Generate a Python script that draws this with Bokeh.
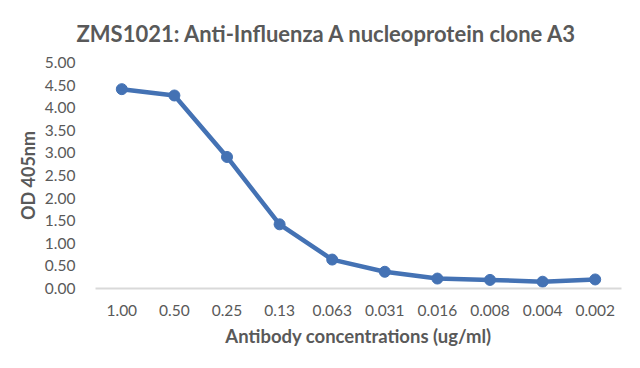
from bokeh.plotting import figure
from bokeh.models import Range1d, FactorRange, ColumnDataSource, SingleIntervalTicker, NumeralTickFormatter
from bokeh.embed import file_html
from bokeh.resources import INLINE

concentrations = ["1.00", "0.50", "0.25", "0.13", "0.063", "0.031", "0.016", "0.008", "0.004", "0.002"]
od_values = [4.41, 4.27, 2.91, 1.42, 0.64, 0.37, 0.22, 0.19, 0.15, 0.20]

FONT = "Lato"
GREY = "#595959"
BLUE = "#4472B4"

src = ColumnDataSource(dict(x=concentrations, y=od_values))

p = figure(width=632, height=360, output_backend="svg", toolbar_location=None,
           x_range=FactorRange(factors=concentrations, range_padding=0),
           y_range=Range1d(0, 5),
           min_border_left=95, min_border_right=11, min_border_top=62, min_border_bottom=72,
           title="ZMS1021: Anti-Influenza A nucleoprotein clone A3")

p.title.align = "left"
p.title.text_font = FONT
p.title.text_font_size = "22px"
p.title.text_font_style = "bold"
p.title.text_color = GREY
p.title.standoff = 32
p.title.offset = -19

p.line("x", "y", source=src, line_color=BLUE, line_width=4.5)
p.scatter("x", "y", source=src, size=11, fill_color=BLUE, line_color=BLUE)

p.outline_line_color = None
p.background_fill_color = "white"
p.border_fill_color = "white"
p.xgrid.grid_line_color = None
p.ygrid.grid_line_color = None

xa = p.xaxis[0]
xa.axis_line_color = "#d9d9d9"
xa.axis_line_width = 2
xa.major_tick_line_color = None
xa.minor_tick_line_color = None
xa.major_label_text_font = FONT
xa.major_label_text_font_size = "15.5px"
xa.major_label_text_color = GREY
xa.major_label_standoff = 10
xa.axis_label = "Antibody concentrations (ug/ml)"
xa.axis_label_text_font = FONT
xa.axis_label_text_font_size = "18.5px"
xa.axis_label_text_font_style = "bold"
xa.axis_label_text_color = GREY
xa.axis_label_standoff = 6

ya = p.yaxis[0]
ya.ticker = SingleIntervalTicker(interval=0.5)
ya.formatter = NumeralTickFormatter(format="0.00")
ya.axis_line_color = None
ya.major_tick_line_color = None
ya.minor_tick_line_color = None
ya.major_label_text_font = FONT
ya.major_label_text_font_size = "15.5px"
ya.major_label_text_color = GREY
ya.major_label_standoff = 14
ya.axis_label = "OD 405nm"
ya.axis_label_text_font = FONT
ya.axis_label_text_font_size = "18px"
ya.axis_label_text_font_style = "bold"
ya.axis_label_text_color = GREY
ya.axis_label_standoff = 3

open("out.html", "w").write(file_html(p, INLINE))
